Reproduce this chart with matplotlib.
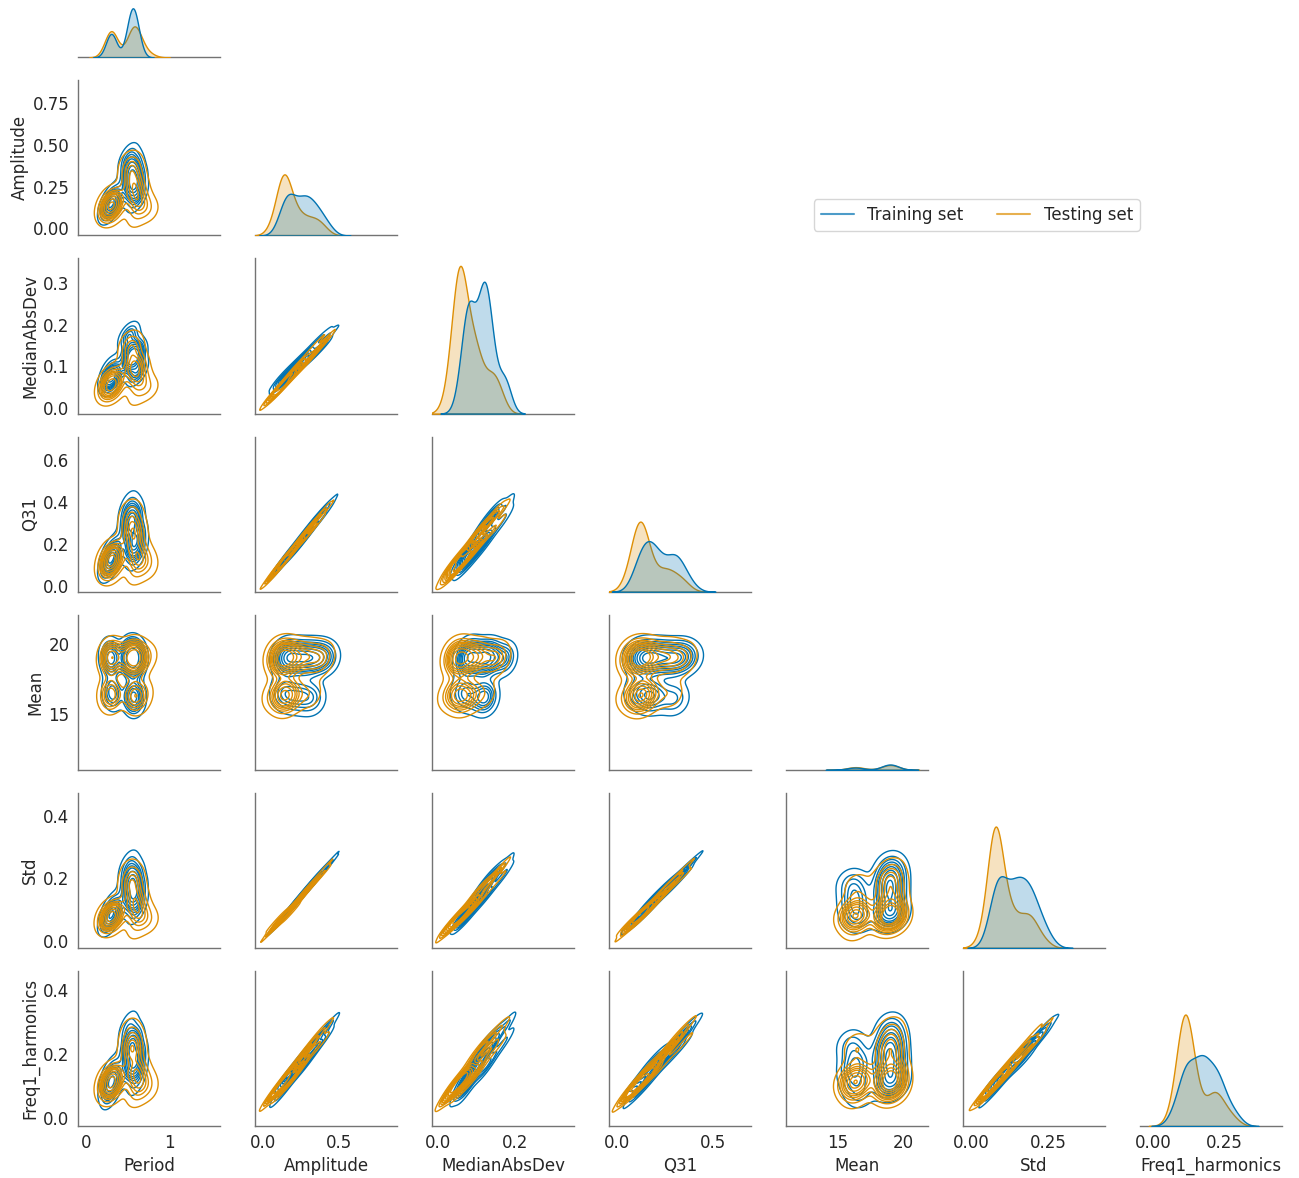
import matplotlib
matplotlib.use("Agg")
import matplotlib.pyplot as plt
import pandas as pd
import seaborn as sns

# feature names and set labels
features = ["Period", "Amplitude", "MedianAbsDev", "Q31", "Mean", "Std", "Freq1_harmonics"]
set_labels = ["Training set", "Testing set"]

# training set samples (estimated)
period_train = [0.30, 0.32, 0.28, 0.31, 0.33, 0.29, 0.30, 0.34, 0.27, 0.31, 0.30,
                0.52, 0.55, 0.57, 0.60, 0.54, 0.50, 0.58, 0.56, 0.62, 0.53, 0.59, 0.56, 0.61,
                0.55, 0.57, 0.51, 0.58, 0.54, 0.63, 0.56, 0.60, 0.53, 0.57, 0.55, 0.59]
amplitude_train = [0.14, 0.16, 0.12, 0.18, 0.15, 0.13, 0.20, 0.17, 0.15, 0.11, 0.16,
                   0.40, 0.33, 0.28, 0.22, 0.36, 0.44, 0.25, 0.31, 0.19, 0.38, 0.27, 0.30, 0.17,
                   0.35, 0.29, 0.42, 0.24, 0.32, 0.20, 0.34, 0.26, 0.37, 0.23, 0.29, 0.27]
mad_train = [0.077, 0.074, 0.067, 0.086, 0.066, 0.072, 0.103, 0.077, 0.086, 0.054, 0.074,
             0.176, 0.125, 0.132, 0.087, 0.163, 0.177, 0.119, 0.116, 0.085, 0.147, 0.125, 0.120, 0.081,
             0.134, 0.127, 0.173, 0.110, 0.125, 0.093, 0.136, 0.117, 0.140, 0.108, 0.117, 0.117]
q31_train = [0.116, 0.148, 0.095, 0.163, 0.144, 0.106, 0.169, 0.160, 0.120, 0.100, 0.139,
             0.334, 0.307, 0.227, 0.209, 0.298, 0.390, 0.196, 0.286, 0.160, 0.344, 0.218, 0.282, 0.139,
             0.314, 0.245, 0.362, 0.192, 0.295, 0.167, 0.299, 0.213, 0.338, 0.182, 0.270, 0.230]
mean_train = [19.0, 18.8, 19.2, 19.1, 16.4, 16.6, 18.9, 16.2, 19.3, 16.8, 18.7,
              19.0, 19.1, 18.9, 19.2, 18.8, 19.0, 16.1, 15.9, 19.1, 19.3, 16.3, 18.7, 19.0,
              16.0, 19.2, 18.9, 18.8, 16.4, 16.2, 19.0, 19.1, 18.9, 16.5, 19.0, 18.8]
std_train = [0.082, 0.088, 0.072, 0.098, 0.087, 0.073, 0.121, 0.092, 0.086, 0.065, 0.088,
             0.223, 0.196, 0.153, 0.132, 0.199, 0.253, 0.135, 0.182, 0.106, 0.221, 0.148, 0.178, 0.096,
             0.194, 0.174, 0.235, 0.141, 0.175, 0.116, 0.192, 0.154, 0.205, 0.135, 0.162, 0.155]
freq1_train = [0.114, 0.101, 0.112, 0.118, 0.115, 0.078, 0.155, 0.117, 0.120, 0.076, 0.136,
               0.245, 0.228, 0.168, 0.167, 0.226, 0.289, 0.155, 0.226, 0.129, 0.258, 0.162, 0.215, 0.112,
               0.235, 0.179, 0.282, 0.184, 0.202, 0.155, 0.219, 0.186, 0.227, 0.178, 0.184, 0.187]

# testing set samples (estimated)
period_test = [0.30, 0.32, 0.28, 0.31, 0.33, 0.29, 0.30, 0.27, 0.34, 0.31, 0.29, 0.32, 0.30, 0.28, 0.33,
               0.55, 0.58, 0.60, 0.52, 0.62, 0.57, 0.65, 0.54, 0.59, 0.72, 0.56, 0.61, 0.53, 0.63,
               0.58, 0.78, 0.57, 0.60, 0.55, 0.66, 0.59]
amplitude_test = [0.13, 0.15, 0.11, 0.14, 0.17, 0.12, 0.16, 0.10, 0.14, 0.19, 0.13, 0.08, 0.15, 0.12, 0.14,
                  0.35, 0.26, 0.20, 0.41, 0.16, 0.29, 0.14, 0.33, 0.23, 0.12, 0.31, 0.18, 0.38, 0.15,
                  0.24, 0.10, 0.27, 0.21, 0.36, 0.13, 0.05]
mad_test = [0.050, 0.068, 0.041, 0.061, 0.068, 0.055, 0.060, 0.044, 0.055, 0.080, 0.047, 0.037, 0.059, 0.052, 0.053,
            0.154, 0.097, 0.090, 0.163, 0.068, 0.109, 0.063, 0.129, 0.105, 0.044, 0.130, 0.080, 0.146, 0.065,
            0.095, 0.046, 0.103, 0.090, 0.142, 0.059, 0.021]
q31_test = [0.117, 0.120, 0.103, 0.116, 0.149, 0.094, 0.147, 0.082, 0.125, 0.154, 0.123, 0.067, 0.133, 0.095, 0.128,
            0.289, 0.241, 0.160, 0.356, 0.131, 0.267, 0.108, 0.295, 0.192, 0.116, 0.251, 0.152, 0.343, 0.119,
            0.219, 0.082, 0.239, 0.173, 0.316, 0.104, 0.046]
mean_test = [19.0, 18.9, 16.4, 16.3, 19.1, 19.2, 16.5, 18.8, 19.0, 16.2, 16.7, 19.3, 18.7, 16.1, 19.0,
             19.0, 18.9, 16.3, 19.1, 16.0, 19.2, 18.8, 16.4, 19.0, 16.6, 19.1, 18.9, 18.8, 16.2,
             19.0, 19.2, 16.5, 19.1, 18.9, 19.0, 16.3]
std_test = [0.076, 0.084, 0.070, 0.080, 0.088, 0.074, 0.083, 0.068, 0.079, 0.092, 0.077, 0.062, 0.082, 0.072, 0.081,
            0.194, 0.149, 0.108, 0.236, 0.088, 0.171, 0.076, 0.187, 0.124, 0.070, 0.172, 0.103, 0.206, 0.087,
            0.132, 0.059, 0.147, 0.120, 0.200, 0.076, 0.031]
freq1_test = [0.105, 0.122, 0.098, 0.116, 0.118, 0.112, 0.114, 0.100, 0.119, 0.125, 0.110, 0.085, 0.123, 0.102, 0.115,
              0.225, 0.196, 0.125, 0.281, 0.116, 0.219, 0.094, 0.233, 0.153, 0.112, 0.206, 0.153, 0.233, 0.125,
              0.154, 0.090, 0.202, 0.141, 0.261, 0.098, 0.065]

train = pd.DataFrame({"Period": period_train, "Amplitude": amplitude_train, "MedianAbsDev": mad_train,
                      "Q31": q31_train, "Mean": mean_train, "Std": std_train, "Freq1_harmonics": freq1_train})
train["set"] = set_labels[0]
test = pd.DataFrame({"Period": period_test, "Amplitude": amplitude_test, "MedianAbsDev": mad_test,
                     "Q31": q31_test, "Mean": mean_test, "Std": std_test, "Freq1_harmonics": freq1_test})
test["set"] = set_labels[1]
df = pd.concat([train, test], ignore_index=True)

sns.set_theme(style="white", palette="colorblind")
plt.rcParams["font.family"] = ["DejaVu Sans"]
plt.rcParams.update({
    "font.size": 12,
    "axes.labelsize": 12,
    "xtick.labelsize": 12,
    "ytick.labelsize": 12,
    "legend.fontsize": 12,
    "xtick.major.size": 0,
    "ytick.major.size": 0,
    "xtick.major.pad": 6,
    "ytick.major.pad": 6,
    "axes.labelpad": 3,
    "axes.edgecolor": "0.45",
    "axes.linewidth": 1.0,
})

g = sns.pairplot(df, vars=features, hue="set", hue_order=set_labels, kind="kde", corner=True,
                 plot_kws={"linewidths": 1.0}, diag_kws={"linewidth": 1.0})

# diagonal densities on one common scale
top = max(ax.get_ylim()[1] for ax in g.diag_axes)
for ax in g.diag_axes:
    ax.set_ylim(0, top)

# axis ranges
xlims = [(-0.096, 1.61), (-0.053, 0.882), (-0.016, 0.353), (-0.042, 0.698),
         (11.0, 21.9), (-0.026, 0.435), (-0.046, 0.454)]
ylims = [None, (-0.042, 0.886), (-0.0145, 0.36), (-0.029, 0.71),
         (11.06, 22.04), (-0.022, 0.474), (-0.025, 0.46)]
for j in range(7):
    g.axes[6, j].set_xlim(*xlims[j])
for i in range(1, 7):
    g.axes[i, 0].set_ylim(*ylims[i])

g.axes[1, 0].set_yticks([0, 0.25, 0.5, 0.75])
g.axes[4, 0].set_yticks([15, 20])
g.axes[5, 0].set_yticks([0, 0.2, 0.4])
g.axes[6, 0].set_yticks([0, 0.2, 0.4])
g.axes[6, 3].set_xticks([0, 0.5])
g.axes[6, 5].set_xticks([0, 0.25])
g.axes[6, 6].set_xticks([0, 0.25])

fig = g.figure
fig.set_size_inches(12.99, 11.78)
fig.subplots_adjust(left=0.060, right=0.987, bottom=0.0441, top=1.083, wspace=0.246, hspace=0.148)

sns.move_legend(g, "center", bbox_to_anchor=(0.752, 0.8175), ncol=2, title="", frameon=True)
for line in g.legend.get_lines():
    line.set_alpha(0.7)

fig.savefig("out.png", dpi=100)
